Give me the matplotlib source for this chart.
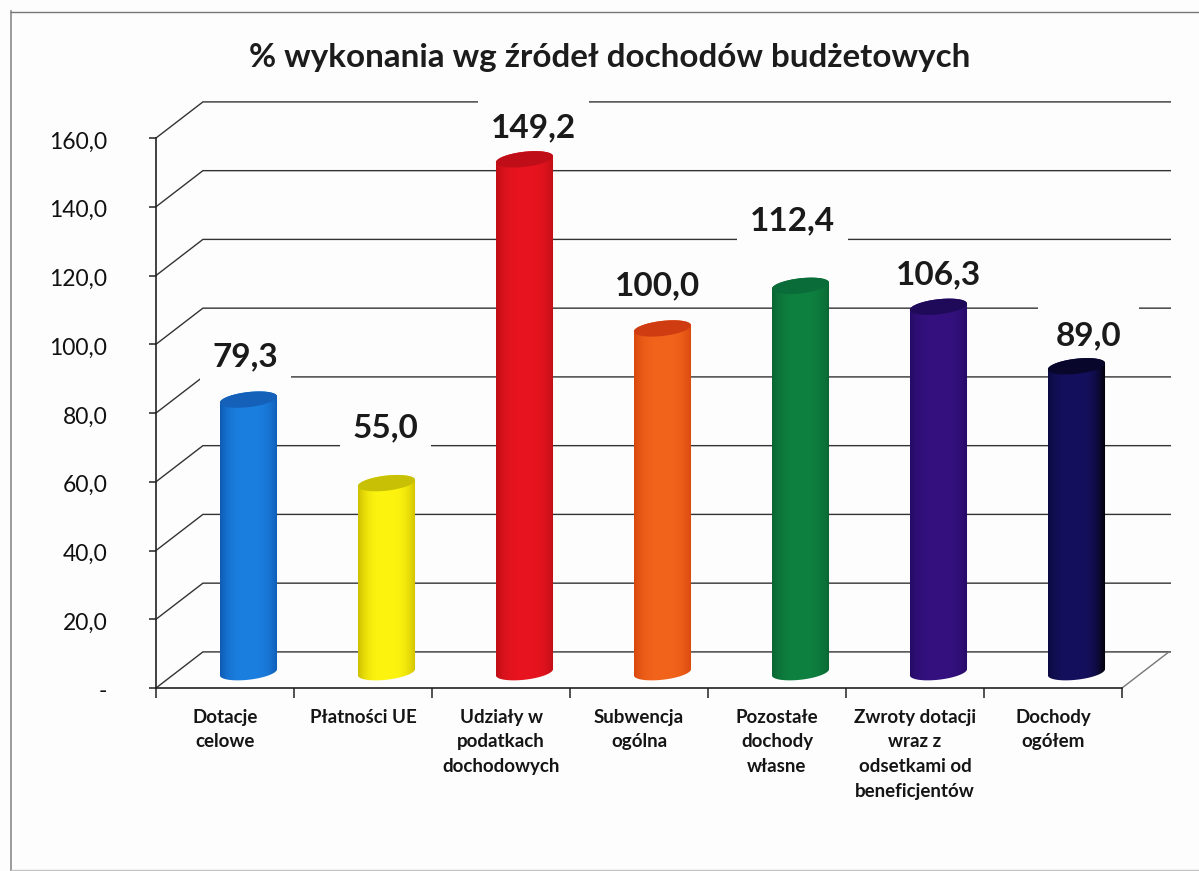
import numpy as np
import matplotlib.pyplot as plt
from matplotlib.colors import to_rgb
from matplotlib.patches import Polygon
from matplotlib.transforms import ScaledTranslation

plt.rcParams['font.family'] = ['Lato', 'DejaVu Sans']

title = '% wykonania wg źródeł dochodów budżetowych'
categories = ['Dotacje\ncelowe', 'Płatności UE', 'Udziały w\npodatkach\ndochodowych',
              'Subwencja\nogólna', 'Pozostałe\ndochody\nwłasne',
              'Zwroty dotacji\nwraz z\nodsetkami od\nbeneficjentów', 'Dochody\nogółem']
values = [79.3, 55.0, 149.2, 100.0, 112.4, 106.3, 89.0]
value_labels = ['79,3', '55,0', '149,2', '100,0', '112,4', '106,3', '89,0']
y_ticks = [0, 20, 40, 60, 80, 100, 120, 140, 160]
y_tick_labels = ['-', '20,0', '40,0', '60,0', '80,0', '100,0', '120,0', '140,0', '160,0']
edge_colors = ['#0e5cb4', '#cfc000', '#c00e16', '#d8480f', '#0a6632', '#260b66', '#0c0a42']
right_colors = ['#0e5cb4', '#cfc000', '#c00e16', '#d8480f', '#0a6632', '#260b66', '#000000']
mid_colors = ['#1b7fe0', '#fdf510', '#e8141f', '#f2641c', '#0e8040', '#34117f', '#15105e']
cap_colors = ['#1560b8', '#c8c004', '#c00e18', '#d03c12', '#0a6c38', '#1e0a58', '#08062a']

# where the value labels sit, pixels from the bar top, and the size of their white box
label_dx = [-3, -1, 9, -5, -8, 0, 12]
label_dy = [43, 55, 32, 43, 65, 32, 30]
label_pads = [9, 9, 9, 3, 9, 9, 13]

W, H = 1199, 871
fig = plt.figure(figsize=(W / 100, H / 100), dpi=100, facecolor='#fdfdfd')
ax = fig.add_axes([156 / W, 1 - 688 / H, 966 / W, 550 / H])
ax.set_facecolor('none')
ax.set_xlim(0, 7)
ax.set_ylim(0, 160)

# depth of the fake 3d box, and how far in the bars stand
depth_x, depth_y = 0.34, 10.5
bar_x, bar_y = 0.17, 4.6
half_w, cap_h, cap_tilt = 0.207, 2.2, 0.9

# walls and floor
line_col = '#333333'
for t in y_ticks:
    ax.plot([0, depth_x, 7 + depth_x + 0.01], [t, t + depth_y, t + depth_y], color=line_col, lw=1.0,
            clip_on=False, zorder=1, solid_joinstyle='miter')
ax.plot([7, 7 + depth_x], [0, depth_y], color='#777777', lw=1, clip_on=False, zorder=1)

ax.set_yticks(y_ticks)
ax.set_yticklabels(y_tick_labels, fontsize=16.5, color='#111111')
ax.set_xticks(range(8))
ax.set_xticklabels([])
ax.set_xticks([i + 0.5 for i in range(7)], labels=categories, minor=True, fontsize=13.5,
              fontweight='bold', color='#151515', linespacing=1.54)
ax.tick_params(axis='x', which='minor', length=0, pad=15)
ax.tick_params(axis='x', which='major', length=7, width=1.1, color='#222222')
ax.tick_params(axis='y', length=5, width=1.1, color='#222222', pad=30)
# y labels sit a little below their ticks
shift = ScaledTranslation(0, -2 / 100, fig.dpi_scale_trans)
for lab in ax.get_yticklabels():
    lab.set_transform(lab.get_transform() + shift)
for s in ['top', 'right']:
    ax.spines[s].set_visible(False)
for s in ['left', 'bottom']:
    ax.spines[s].set_linewidth(1.2)
    ax.spines[s].set_color('#222222')

# value labels have a white box which cuts the grid lines
for i, v in enumerate(values):
    ax.annotate(value_labels[i], (i + 0.5 + bar_x, v + bar_y),
                xytext=(label_dx[i], label_dy[i]), textcoords='offset pixels',
                ha='center', va='center', fontsize=24, fontweight='bold', color='#1a1a1a', zorder=2,
                bbox=dict(facecolor='#fdfdfd', edgecolor='none', pad=label_pads[i]))

# cylinders
t_arc = np.linspace(np.pi, 2 * np.pi, 40)
t_full = np.linspace(0, 2 * np.pi, 80)
shade = np.abs(np.linspace(-1, 1, 64)) ** 3
for i, v in enumerate(values):
    cx = i + 0.5 + bar_x
    top = v + bar_y
    arc_x = cx + half_w * np.cos(t_arc)
    arc_y = bar_y + cap_h * np.sin(t_arc) + cap_tilt * np.cos(t_arc)
    top_x = cx + half_w * np.cos(t_full)
    top_y = top + cap_h * np.sin(t_full) + cap_tilt * np.cos(t_full)
    xs = np.concatenate([arc_x, top_x[:40]])
    ys = np.concatenate([arc_y, top_y[:40]])
    body = Polygon(np.column_stack([xs, ys]), closed=True, transform=ax.transData,
                   facecolor='none', edgecolor='none')
    ax.add_patch(body)
    c2 = np.array(to_rgb(mid_colors[i]))
    c_l = np.array(to_rgb(edge_colors[i]))
    c_r = np.array(to_rgb(right_colors[i]))
    grad = np.zeros((1, 64, 3))
    for k in range(64):
        c1 = c_l if k < 32 else c_r
        grad[0, k] = c2 + (c1 - c2) * shade[k]
    im = ax.imshow(grad, extent=[cx - half_w, cx + half_w, 0, top + cap_h * 2], aspect='auto',
                   interpolation='bilinear', zorder=3)
    im.set_clip_path(body)
    ax.fill(top_x, top_y, color=cap_colors[i], lw=0, zorder=4, clip_on=False)

ax.set_xlim(0, 7)
ax.set_ylim(0, 160)

fig.text(610 / W, 1 - 57 / H, title, ha='center', va='center', fontsize=23.9, fontweight='bold',
         color='#1c1c1c')

# scanned page frame
fig.add_artist(plt.Line2D([11 / W, 11 / W], [1 - 11 / H, 1 - 871 / H], color='#8a8a8a', lw=1.2))
fig.add_artist(plt.Line2D([11 / W, 1199 / W], [1 - 12 / H, 1 - 12 / H], color='#777777', lw=1))
fig.add_artist(plt.Line2D([11 / W, 1199 / W], [1 - 870 / H, 1 - 870 / H], color='#c4c4c4', lw=1))

fig.savefig('out.png', dpi=100, facecolor=fig.get_facecolor())
